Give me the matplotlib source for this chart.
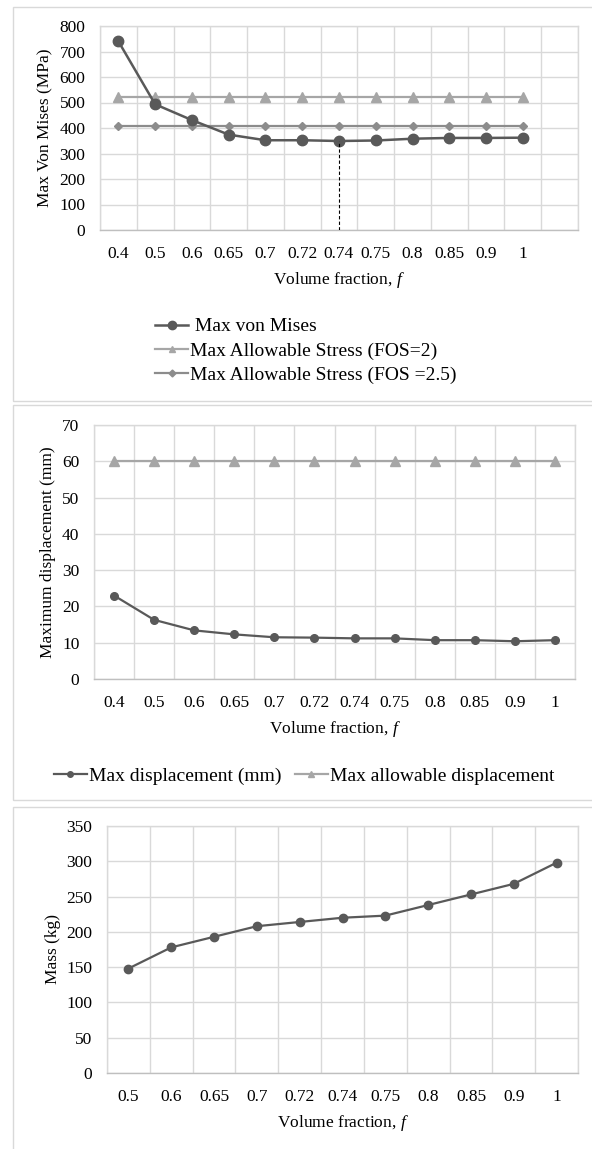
import matplotlib
matplotlib.use("Agg")
import matplotlib.pyplot as plt
from matplotlib.patches import Rectangle
from matplotlib.lines import Line2D
import numpy as np

plt.rcParams['font.family'] = ['Liberation Serif', 'DejaVu Serif']
plt.rcParams['mathtext.fontset'] = 'custom'
plt.rcParams['mathtext.rm'] = 'Liberation Serif'
plt.rcParams['mathtext.it'] = 'Liberation Serif:italic'

# ---- data ----
vf_stress = ['0.4', '0.5', '0.6', '0.65', '0.7', '0.72', '0.74', '0.75', '0.8', '0.85', '0.9', '1']
von_mises = [740, 493, 431, 374, 352, 352, 349, 351, 358, 361, 361, 362]
allow_fos2 = [520] * 12
allow_fos25 = [408] * 12

vf_disp = ['0.4', '0.5', '0.6', '0.65', '0.7', '0.72', '0.74', '0.75', '0.8', '0.85', '0.9', '1']
max_disp = [23.0, 16.3, 13.4, 12.3, 11.5, 11.4, 11.2, 11.2, 10.7, 10.7, 10.4, 10.7]
allow_disp = [60] * 12

vf_mass = ['0.5', '0.6', '0.65', '0.7', '0.72', '0.74', '0.75', '0.8', '0.85', '0.9', '1']
mass = [148, 178, 193, 208, 214, 220, 223, 238, 253, 268, 298]

W, H = 592, 1149
fig = plt.figure(figsize=(W / 100, H / 100), dpi=100)

DARK = '#595959'
LIGHT = '#a6a6a6'
MID = '#8c8c8c'
GRID = '#d9d9d9'
FS = 12.5
LFS = 14


def px_axes(l, t, r, b):
    return fig.add_axes([l / W, 1 - b / H, (r - l) / W, (b - t) / H])


def style(ax, ncells, labels, ylim, yticks):
    ax.set_xlim(-0.5, ncells - 0.5)
    ax.set_ylim(*ylim)
    ax.set_yticks(yticks)
    ax.set_xticks(np.arange(len(labels)))
    ax.set_xticklabels(labels, fontsize=FS)
    ax.set_xticks(np.arange(ncells + 1) - 0.5, minor=True)
    ax.tick_params(axis='both', which='both', length=0, labelsize=FS)
    ax.tick_params(axis='x', pad=11.5)
    ax.tick_params(axis='y', pad=10.5)
    ax.grid(True, which='minor', axis='x', color=GRID, lw=1.0)
    ax.grid(True, which='major', axis='y', color=GRID, lw=1.0)
    ax.set_axisbelow(True)
    for s in ax.spines.values():
        s.set_color(GRID)
        s.set_linewidth(1.0)
    ax.spines['bottom'].set_color('#bfbfbf')


# panel borders
for (l, t, r, b) in [(13, 7, 600, 401), (13, 405, 600, 800), (13, 807, 600, 1160)]:
    fig.patches.append(Rectangle((l / W, 1 - b / H), (r - l) / W, (b - t) / H,
                                 transform=fig.transFigure, fill=False,
                                 edgecolor='#d9d9d9', lw=1.0))

# ---- panel 1 ----
ax1 = px_axes(100, 26, 578, 230)
x1 = np.arange(len(vf_stress))
style(ax1, 13, vf_stress, (0, 800), np.arange(0, 801, 100))
ax1.plot(x1, allow_fos2, color=LIGHT, lw=1.6, marker='^', ms=7, mec=LIGHT, mfc=LIGHT,
         label='Max Allowable Stress (FOS=2)', zorder=3)
ax1.plot(x1, allow_fos25, color=MID, lw=1.6, marker='D', ms=4.5, mec=MID, mfc=MID,
         label='Max Allowable Stress (FOS =2.5)', zorder=3)
ax1.plot(x1, von_mises, color=DARK, lw=1.8, marker='o', ms=7.5, mec=DARK, mfc=DARK,
         label=' Max von Mises', zorder=4)
ax1.vlines(x1[6], 0, von_mises[6], colors='black', linestyles=(0, (3, 2)), lw=0.8, zorder=5)
ax1.set_ylabel('Max Von Mises (MPa)', fontsize=FS, labelpad=4)
ax1.set_xlabel(r'Volume fraction, $\mathit{f}$', fontsize=FS, labelpad=6)
h, lab = ax1.get_legend_handles_labels()
order = [2, 0, 1]
fig.legend([Line2D([], [], color=DARK, lw=1.8, marker='o', ms=6),
            Line2D([], [], color=LIGHT, lw=1.6, marker='^', ms=5),
            Line2D([], [], color=MID, lw=1.6, marker='D', ms=3.5)],
           [lab[i] for i in order], loc='upper center',
           bbox_to_anchor=(306 / W, 1 - 310 / H), frameon=False, fontsize=LFS,
           handlelength=1.7, handletextpad=0.1, labelspacing=0.35, borderaxespad=0)

# ---- panel 2 ----
ax2 = px_axes(94, 425, 575, 679)
x2 = np.arange(len(vf_disp))
style(ax2, 12, vf_disp, (0, 70), np.arange(0, 71, 10))
ax2.plot(x2, max_disp, color=DARK, lw=1.6, marker='o', ms=5.5, mec=DARK, mfc=DARK,
         label='Max displacement (mm)', zorder=4)
ax2.plot(x2, allow_disp, color=LIGHT, lw=1.6, marker='^', ms=7, mec=LIGHT, mfc=LIGHT,
         label='Max allowable displacement', zorder=3)
ax2.set_ylabel('Maximum displacement (mm)', fontsize=FS, labelpad=4)
ax2.set_xlabel(r'Volume fraction, $\mathit{f}$', fontsize=FS, labelpad=6)
fig.legend([Line2D([], [], color=DARK, lw=1.6, marker='o', ms=4),
            Line2D([], [], color=LIGHT, lw=1.6, marker='^', ms=4.5)],
           ['Max displacement (mm)', 'Max allowable displacement'],
           loc='center', bbox_to_anchor=(304 / W, 1 - 776 / H), ncol=2, frameon=False,
           fontsize=LFS, handlelength=1.7, handletextpad=0.1, columnspacing=0.7,
           borderaxespad=0)

# ---- panel 3 ----
ax3 = px_axes(107, 826, 578, 1073)
x3 = np.arange(len(vf_mass))
style(ax3, 11, vf_mass, (0, 350), np.arange(0, 351, 50))
ax3.plot(x3, mass, color=DARK, lw=1.6, marker='o', ms=6, mec=DARK, mfc=DARK, zorder=4)
ax3.set_ylabel('Mass (kg)', fontsize=FS, labelpad=4)
ax3.set_xlabel(r'Volume fraction, $\mathit{f}$', fontsize=FS, labelpad=6)

fig.savefig('out.png', dpi=100, facecolor='white')
